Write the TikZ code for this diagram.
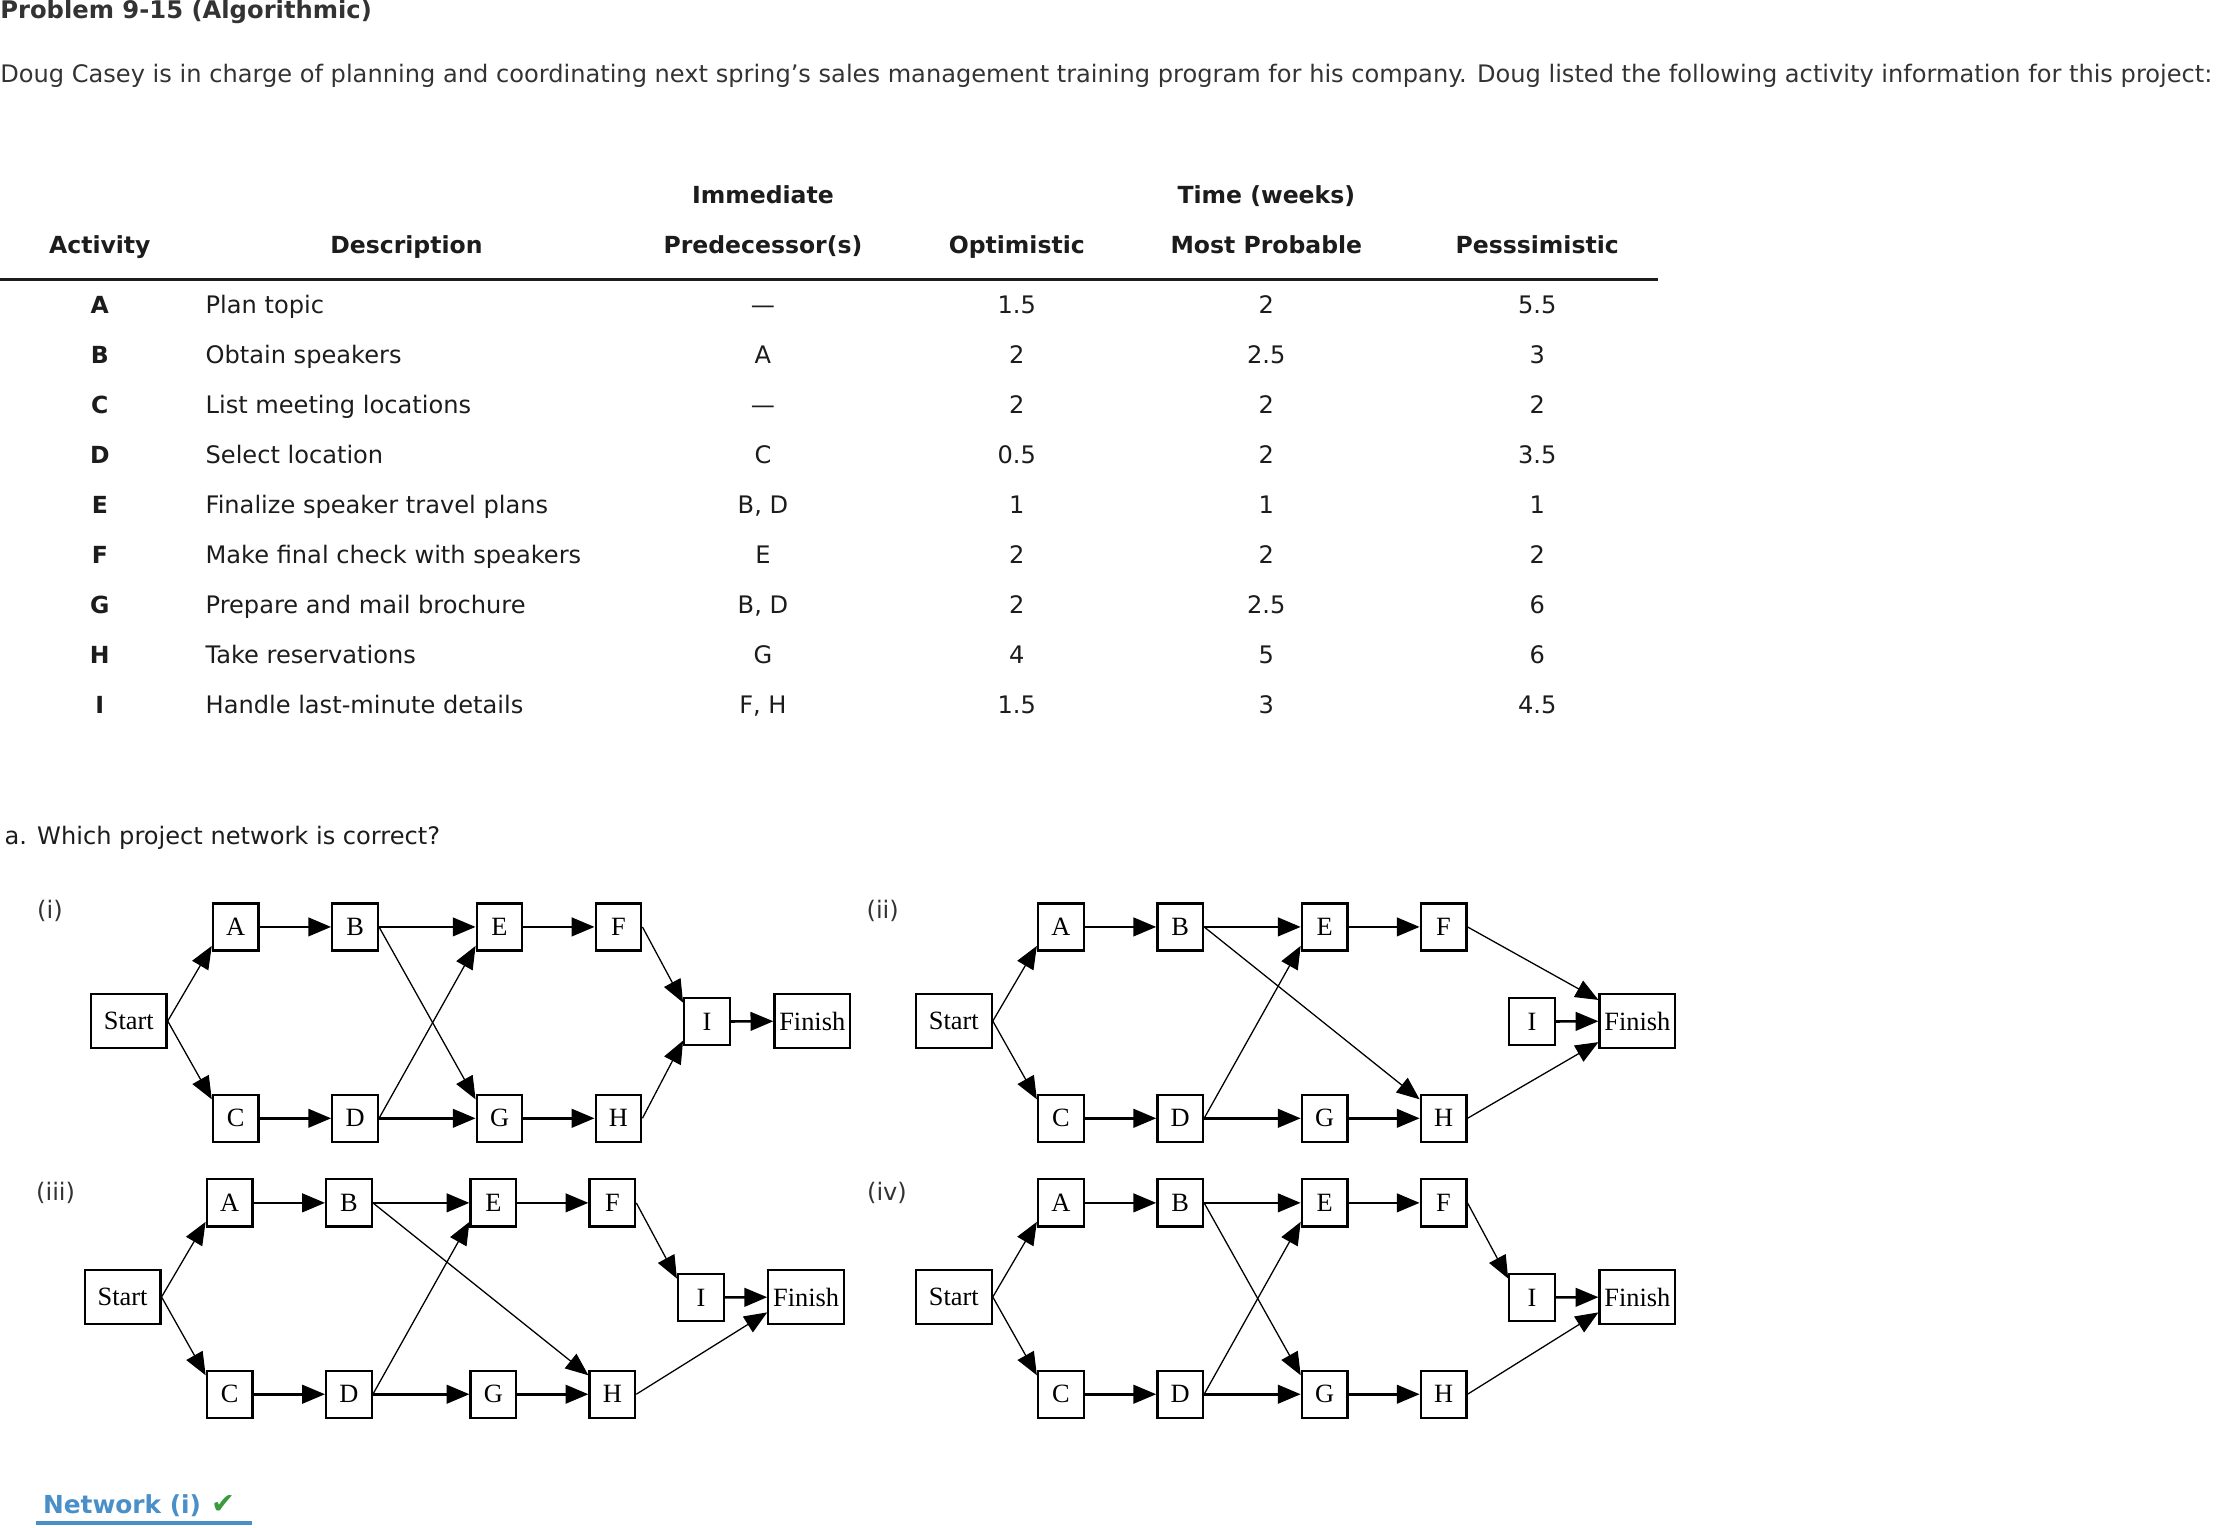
\documentclass[tikz,border=0pt]{standalone}
\usepackage{fontspec}
\setmainfont{DejaVu Sans}
\newfontfamily\boxfont{Liberation Serif}
\usetikzlibrary{arrows.meta,positioning,calc}
\definecolor{Ink}{HTML}{333333}
\definecolor{InkDark}{HTML}{1C1C1C}
\definecolor{Link}{HTML}{4A8FC7}
\definecolor{Tick}{HTML}{3A9B3A}
\tikzset{
  body/.style={font=\fontsize{16.9}{20}\selectfont,text=Ink,inner sep=0pt},
  bodybold/.style={body,font=\fontsize{16.5}{20}\selectfont\bfseries},
  cell/.style={body,text=InkDark,anchor=base},
  actbox/.style={draw=black,line width=1.6pt,minimum width=32pt,minimum height=33pt,
                 inner sep=0pt,font=\boxfont\fontsize{18.5}{18.5}\selectfont},
  endbox/.style={actbox,minimum width=53pt,minimum height=38pt},
  flat/.style={-{Triangle[length=16pt,width=13pt]},line width=1.8pt},
  slant/.style={-{Triangle[length=16pt,width=13pt]},line width=0.9pt},
}
\newcommand{\actrow}[7]{%
  \node[cell,font=\fontsize{16.5}{20}\selectfont\bfseries] (act#1) at (70,#7) {#1};
  \node[cell,anchor=base west] (desc#1) at (144,#7) {#2};
  \node[cell] (pred#1) at (535,#7) {#3};
  \node[cell] (opt#1) at (713,#7) {#4};
  \node[cell] (most#1) at (888,#7) {#5};
  \node[cell] (pess#1) at (1078,#7) {#6};
}
\newcommand{\netboxes}[3]{%
  \begin{scope}[shift={(#2,#3)}]
    \node[endbox] (#1Start) at (90.3,716) {Start};
    \node[actbox] (#1A) at (165.3,650) {A};
    \node[actbox] (#1B) at (249,650) {B};
    \node[actbox] (#1E) at (350.3,650) {E};
    \node[actbox] (#1F) at (433.7,650) {F};
    \node[actbox] (#1C) at (165.3,784.2) {C};
    \node[actbox] (#1D) at (249,784.2) {D};
    \node[actbox] (#1G) at (350.3,784.2) {G};
    \node[actbox] (#1H) at (433.7,784.2) {H};
    \node[actbox] (#1I) at (495.8,716.4) {I};
    \node[endbox] (#1Finish) at (569.6,716) {Finish};
  \end{scope}
}
\newcommand{\netlinks}[1]{%
  \draw[slant] (#1Start.east) -- ([yshift=4pt]#1A.south west);
  \draw[slant] (#1Start.east) -- ([yshift=-4pt]#1C.north west);
  \draw[flat] (#1A) -- (#1B);
  \draw[flat] (#1B) -- (#1E);
  \draw[flat] (#1E) -- (#1F);
  \draw[flat] (#1C) -- (#1D);
  \draw[flat] (#1D) -- (#1G);
  \draw[flat] (#1G) -- (#1H);
  \draw[slant] (#1D.east) -- ([yshift=4pt]#1E.south west);
  \draw[flat] (#1I) -- (#1Finish);
}
\begin{document}
\begin{tikzpicture}[x=1pt,y=-1pt]
  \useasboundingbox (0,0) rectangle (1568,1071);
  \node[bodybold,font=\fontsize{17}{20}\selectfont\bfseries,anchor=base west] (title) at (0,13) {Problem 9-15 (Algorithmic)};
  \node[body,anchor=base west] (intro) at (0,58)
    {Doug Casey is in charge of planning and coordinating next spring’s sales management training program for his company. Doug listed the following activity information for this project:};

  \node[bodybold,text=InkDark,anchor=base] (hdimm) at (535,143) {Immediate};
  \node[bodybold,text=InkDark,anchor=base] (hdtime) at (888,143) {Time (weeks)};
  \foreach \x/\t/\n in {70/Activity/act,285/Description/desc,535/Predecessor(s)/pred,
                        713/Optimistic/opt,888/Most Probable/most,1078/Pesssimistic/pess}{
    \node[bodybold,text=InkDark,anchor=base] (hd\n) at (\x,178) {\t};
  }
  \draw[InkDark,line width=1.5pt] (0,196) -- (1163,196);

  \actrow{A}{Plan topic}{—}{1.5}{2}{5.5}{220}
  \actrow{B}{Obtain speakers}{A}{2}{2.5}{3}{255}
  \actrow{C}{List meeting locations}{—}{2}{2}{2}{290}
  \actrow{D}{Select location}{C}{0.5}{2}{3.5}{325}
  \actrow{E}{Finalize speaker travel plans}{B, D}{1}{1}{1}{360}
  \actrow{F}{Make final check with speakers}{E}{2}{2}{2}{395}
  \actrow{G}{Prepare and mail brochure}{B, D}{2}{2.5}{6}{430}
  \actrow{H}{Take reservations}{G}{4}{5}{6}{465}
  \actrow{I}{Handle last-minute details}{F, H}{1.5}{3}{4.5}{500}

  \node[body,text=InkDark,anchor=base west] (question) at (3,592) {a. Which project network is correct?};
  \node[body,anchor=base] (labone) at (35,644) {(i)};
  \node[body,anchor=base] (labtwo) at (619,644) {(ii)};
  \node[body,anchor=base] (labthree) at (39,842) {(iii)};
  \node[body,anchor=base] (labfour) at (622,842) {(iv)};

  \netboxes{one}{0}{0}
  \netboxes{two}{578.6}{0}
  \netboxes{three}{-4.3}{193.5}
  \netboxes{four}{578.6}{193.5}
  \netlinks{one}
  \netlinks{two}
  \netlinks{three}
  \netlinks{four}

  \draw[slant] (oneB.east) -- ([yshift=-4pt]oneG.north west);
  \draw[slant] (oneF.east) -- ([yshift=-4pt]oneI.north west);
  \draw[slant] (oneH.east) -- ([yshift=4pt]oneI.south west);

  \draw[slant] (twoB.east) -- ([yshift=-4pt]twoH.north west);
  \draw[slant] (twoF.east) -- ([yshift=-5pt]twoFinish.north west);
  \draw[slant] (twoH.east) -- ([yshift=5pt]twoFinish.south west);

  \draw[slant] (threeB.east) -- ([yshift=-4pt]threeH.north west);
  \draw[slant] (threeF.east) -- ([yshift=-4pt]threeI.north west);
  \draw[slant] (threeH.east) -- ([yshift=9pt]threeFinish.south west);

  \draw[slant] (fourB.east) -- ([yshift=-4pt]fourG.north west);
  \draw[slant] (fourF.east) -- ([yshift=-4pt]fourI.north west);
  \draw[slant] (fourH.east) -- ([yshift=9pt]fourFinish.south west);

  \node[font=\fontsize{17.4}{20}\selectfont\bfseries,text=Link,inner sep=0pt,anchor=base west]
    (answer) at (30,1061) {Network (i)};
  \node[font=\fontsize{20}{20}\selectfont,text=Tick,inner sep=0pt,anchor=base west]
    (tick) at ([xshift=7pt]answer.base east) {✔};
  \draw[Link,line width=3pt] (25,1068) -- (177,1068);
\end{tikzpicture}
\end{document}
